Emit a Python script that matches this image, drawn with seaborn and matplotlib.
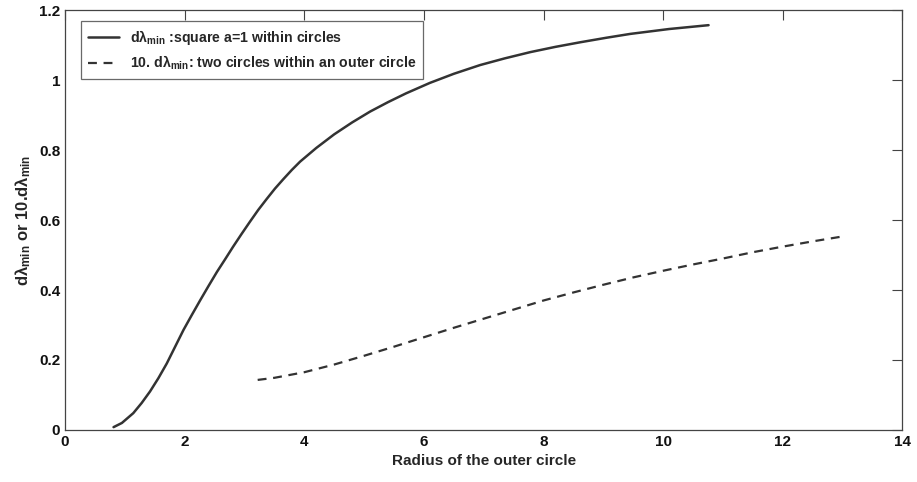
import numpy as np
import pandas as pd
import matplotlib
matplotlib.use('Agg')
import matplotlib.pyplot as plt
import seaborn as sns

# Valores
raio_quadrado = [0.81, 0.95, 1.14, 1.28, 1.42, 1.56, 1.70, 1.84, 1.98, 2.12, 2.26, 2.40, 2.54,
                 2.68, 2.81, 2.95, 3.09, 3.23, 3.37, 3.51, 3.65, 3.79, 3.93, 4.2, 4.5, 4.8,
                 5.1, 5.4, 5.7, 6.1, 6.5, 6.94, 7.35, 7.78, 8.2, 8.61, 9.05, 9.45, 10.1, 10.76]
dlambda_quadrado = [0.008, 0.02, 0.048, 0.077, 0.11, 0.148, 0.19, 0.238, 0.286, 0.329, 0.371,
                    0.412, 0.452, 0.489, 0.524, 0.560, 0.595, 0.629, 0.660, 0.690, 0.717, 0.743,
                    0.767, 0.806, 0.845, 0.879, 0.910, 0.937, 0.962, 0.992, 1.018, 1.043, 1.062,
                    1.080, 1.095, 1.108, 1.121, 1.132, 1.146, 1.157]

raio_circulos = [3.22, 3.5, 4.0, 4.5, 5.0, 5.5, 6.0, 6.5, 7.0, 7.5, 8.0, 8.5, 9.0, 9.5, 10.0,
                 10.5, 11.0, 11.5, 12.0, 12.5, 13.0]
dlambda_circulos = [0.143, 0.149, 0.165, 0.187, 0.212, 0.238, 0.265, 0.292, 0.318, 0.344, 0.37,
                    0.393, 0.415, 0.436, 0.455, 0.473, 0.49, 0.508, 0.524, 0.539, 0.553]

rotulo_1 = r'd$\lambda_{min}$ :square a=1 within circles'
rotulo_2 = r'10. d$\lambda_{min}$: two circles within an outer circle'

sns.set_style('white')
plt.rcParams['font.family'] = ['Liberation Sans', 'DejaVu Sans']
plt.rcParams['font.weight'] = 'bold'
plt.rcParams['mathtext.fontset'] = 'custom'
plt.rcParams['mathtext.rm'] = 'Liberation Sans:bold'
plt.rcParams['mathtext.it'] = 'Liberation Sans:bold'
plt.rcParams['mathtext.bf'] = 'Liberation Sans:bold'
plt.rcParams['mathtext.default'] = 'bf'

fig = plt.figure(figsize=(9.17, 4.82), dpi=100)
ax = fig.add_axes([0.071, 0.108, 0.913, 0.871])

cor = '#333333'
df1 = pd.DataFrame({'x': raio_quadrado, 'y': dlambda_quadrado})
df2 = pd.DataFrame({'x': raio_circulos, 'y': dlambda_circulos})
sns.lineplot(data=df1, x='x', y='y', ax=ax, color=cor, lw=1.8, label=rotulo_1)
sns.lineplot(data=df2, x='x', y='y', ax=ax, color=cor, lw=1.6, linestyle=(0, (4, 3)), label=rotulo_2)

ax.set_xlim(0, 14)
ax.set_ylim(0, 1.2)
ax.set_xticks(np.arange(0, 15, 2))
ax.set_yticks(np.arange(0, 1.21, 0.2))
ax.set_yticklabels(['0', '0.2', '0.4', '0.6', '0.8', '1', '1.2'])
ax.tick_params(direction='in', top=True, right=True, length=7, width=0.8,
               labelsize=11, labelcolor='#111111', color='#444444')
for sp in ax.spines.values():
    sp.set_color('#444444')
    sp.set_linewidth(0.9)

ax.set_xlabel('Radius of the outer circle', fontsize=11, fontweight='bold')
ax.set_ylabel(r'd$\lambda_{min}$ or 10.d$\lambda_{min}$', fontsize=12, fontweight='bold')

leg = ax.legend(loc='upper left', fontsize=10.2, frameon=True, fancybox=False,
                edgecolor='#444444', handlelength=2.2, borderpad=0.45, labelspacing=0.5,
                bbox_to_anchor=(0.011, 0.99))
leg.get_frame().set_linewidth(0.9)

fig.savefig('out.png', dpi=100)
